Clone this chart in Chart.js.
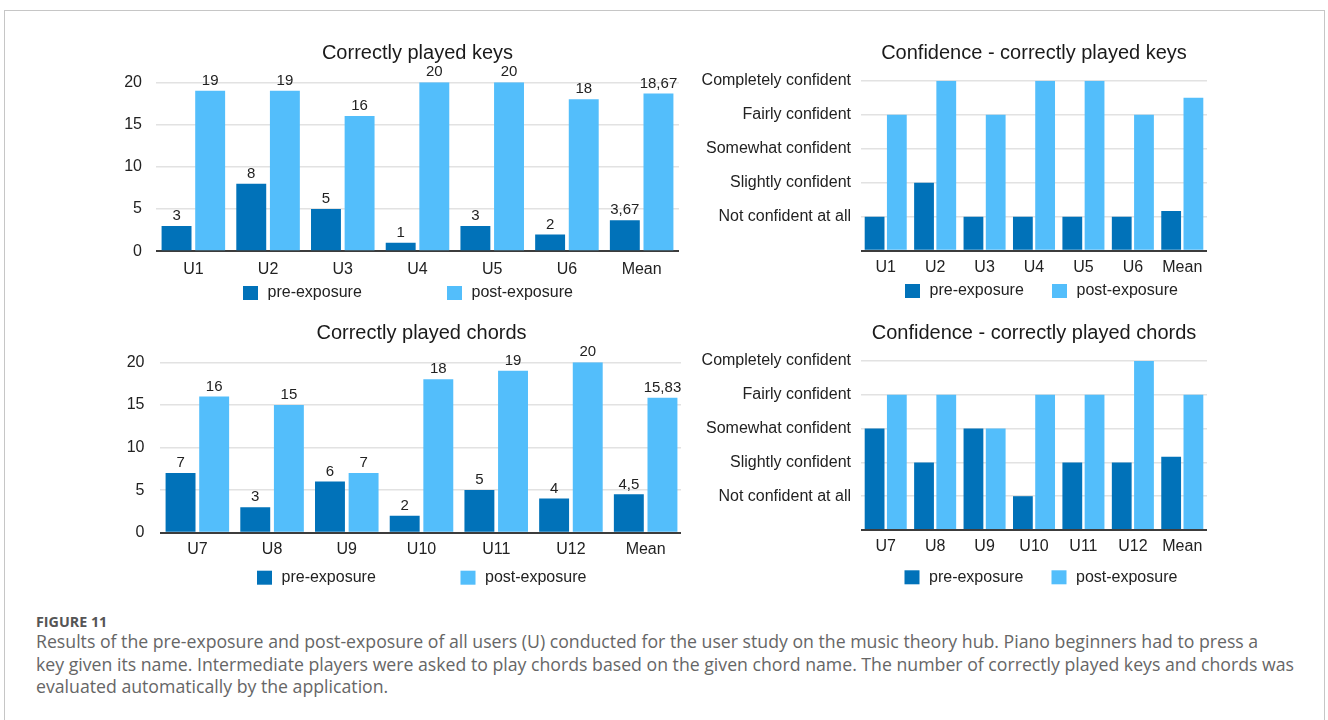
<!DOCTYPE html>
<html>
<head>
<meta charset="utf-8">
<script src="https://cdn.jsdelivr.net/npm/chart.js@4.4.1/dist/chart.umd.min.js"></script>
<style>
  html, body { margin: 0; padding: 0; background: #fff; }
  body { width: 1328px; height: 720px; position: relative; overflow: hidden; }
  .frame { position: absolute; left: 4px; top: 10px; width: 1321px; height: 760px; border: 1px solid #c6c6c6; box-sizing: border-box; }
  .clip { position: absolute; overflow: hidden; }
  canvas { position: absolute; }
  .fig { position: absolute; left: 36px; top: 612px; font-family: "Open Sans", sans-serif; font-weight: 700; font-size: 14.3px; color: #555; }
  .caption { position: absolute; left: 36px; top: 630px; font-family: "Open Sans", sans-serif; font-size: 17.7px; line-height: 22.5px; color: #666; white-space: nowrap; }
</style>
</head>
<body>
<div class="frame"></div>

<div class="clip" style="left:100px; top:30px; width:581px; height:280px;"><canvas id="keys" width="582" height="280" style="left:0; top:0;"></canvas></div>
<canvas id="confKeys" width="638" height="280" style="left:690px; top:30px;"></canvas>
<div class="clip" style="left:100px; top:310px; width:581px; height:290px;"><canvas id="chords" width="584" height="290" style="left:0; top:0;"></canvas></div>
<canvas id="confChords" width="638" height="290" style="left:690px; top:310px;"></canvas>

<div class="fig">FIGURE 11</div>
<div class="caption">
  Results of the pre-exposure and post-exposure of all users (U) conducted for the user study on the music theory hub. Piano beginners had to press a<br>
  key given its name. Intermediate players were asked to play chords based on the given chord name. The number of correctly played keys and chords was<br>
  evaluated automatically by the application.
</div>

<script>
// dados
const keyUsers = ['U1', 'U2', 'U3', 'U4', 'U5', 'U6', 'Mean'];
const chordUsers = ['U7', 'U8', 'U9', 'U10', 'U11', 'U12', 'Mean'];
const seriesNames = ['pre-exposure', 'post-exposure'];
const confLevels = ['Not confident at all', 'Slightly confident', 'Somewhat confident', 'Fairly confident', 'Completely confident'];

const keysPre = [3, 8, 5, 1, 3, 2, 3.67];
const keysPost = [19, 19, 16, 20, 20, 18, 18.67];
const chordsPre = [7, 3, 6, 2, 5, 4, 4.5];
const chordsPost = [16, 15, 7, 18, 19, 20, 15.83];
const confKeysPre = [1, 2, 1, 1, 1, 1, 1.17];
const confKeysPost = [4, 5, 4, 5, 5, 4, 4.5];
const confChordsPre = [3, 2, 3, 1, 2, 2, 2.17];
const confChordsPost = [4, 4, 3, 4, 4, 5, 4];

const PRE_COLOR = '#0172b9';
const POST_COLOR = '#53befb';
const FONT = '"Liberation Sans", Arial, sans-serif';

Chart.defaults.font.family = FONT;
Chart.defaults.color = '#222';

// valores em cima das barras (virgula decimal)
const valueLabels = {
  id: 'valueLabels',
  afterDatasetsDraw(chart) {
    const ctx = chart.ctx;
    ctx.save();
    ctx.font = '15px ' + FONT;
    ctx.fillStyle = '#222';
    ctx.textAlign = 'center';
    ctx.textBaseline = 'middle';
    chart.data.datasets.forEach((ds, i) => {
      chart.getDatasetMeta(i).data.forEach((bar, j) => {
        ctx.fillText(String(ds.data[j]).replace('.', ','), bar.x, bar.y - 10);
      });
    });
    ctx.restore();
  }
};

// legenda desenhada numa linha, com espacamento livre
function legendRow(starts, offsetY) {
  return {
    id: 'legendRow',
    afterDraw(chart) {
      const { ctx, chartArea } = chart;
      const y = chartArea.bottom + offsetY;
      ctx.save();
      ctx.font = '16px ' + FONT;
      ctx.textBaseline = 'middle';
      ctx.textAlign = 'left';
      chart.data.datasets.forEach((ds, i) => {
        const x = chartArea.left + starts[i];
        ctx.fillStyle = ds.backgroundColor;
        ctx.fillRect(x, y - 7, 15, 14);
        ctx.fillStyle = '#222';
        ctx.fillText(ds.label, x + 24.5, y);
      });
      ctx.restore();
    }
  };
}

function criarGrafico(id, o) {
  const plugins = [legendRow(o.legendStarts, o.legendY)];
  if (o.values) plugins.push(valueLabels);

  const yTicks = o.confidence
    ? { min: 0, max: 5, stepSize: 1, callback: v => confLevels[v - 1] || '' }
    : { min: 0, max: 20, stepSize: 5 };

  return new Chart(document.getElementById(id), {
    type: 'bar',
    data: {
      labels: o.labels,
      datasets: [
        { label: seriesNames[0], data: o.pre, backgroundColor: PRE_COLOR },
        { label: seriesNames[1], data: o.post, backgroundColor: POST_COLOR }
      ]
    },
    plugins: plugins,
    options: {
      responsive: false,
      animation: false,
      devicePixelRatio: 1,
      events: [],
      categoryPercentage: 0.9,
      barPercentage: 0.89,
      layout: { padding: { top: 0, right: o.padRight, bottom: o.padBottom, left: 0 } },
      plugins: {
        legend: { display: false },
        tooltip: { enabled: false },
        title: {
          display: true,
          text: o.title,
          fullSize: false,
          color: '#1a1a1a',
          font: { size: 20, weight: 'normal', lineHeight: 1.2 },
          padding: { top: o.titleTop, bottom: o.titleBottom }
        }
      },
      scales: {
        x: {
          grid: { display: false, drawTicks: false },
          border: { display: false },
          ticks: { font: { size: 16 }, color: '#222', padding: o.xPad, maxRotation: 0, autoSkip: false },
          afterFit: s => { s.height = 30; }
        },
        y: {
          min: yTicks.min,
          max: yTicks.max,
          border: { display: false },
          grid: {
            drawTicks: false,
            color: c => c.tick.value === 0 ? '#3c3c3c' : '#e2e2e2',
            lineWidth: c => c.tick.value === 0 ? 2 : 1.5
          },
          ticks: {
            stepSize: yTicks.stepSize,
            callback: yTicks.callback,
            font: { size: 16 },
            color: '#222',
            padding: o.yPad
          },
          afterFit: s => { s.width = o.yWidth; }
        }
      }
    }
  });
}

criarGrafico('keys', {
  title: 'Correctly played keys', labels: keyUsers, pre: keysPre, post: keysPost, values: true,
  yWidth: 56, yPad: 14, padRight: 3, padBottom: 28.7, titleTop: 11, titleBottom: 17.3, xPad: 9,
  legendStarts: [87, 291], legendY: 41.7
});

criarGrafico('confKeys', {
  title: 'Confidence - correctly played keys', labels: keyUsers, pre: confKeysPre, post: confKeysPost, confidence: true,
  yWidth: 171, yPad: 10, padRight: 121, padBottom: 29.3, titleTop: 11, titleBottom: 15.7, xPad: 7,
  legendStarts: [44, 191], legendY: 40.3
});

criarGrafico('chords', {
  title: 'Correctly played chords', labels: chordUsers, pre: chordsPre, post: chordsPost, values: true,
  yWidth: 60, yPad: 15.5, padRight: 1, padBottom: 37.3, titleTop: 11.3, titleBottom: 17, xPad: 7.5,
  legendStarts: [97, 300.5], legendY: 45
});

criarGrafico('confChords', {
  title: 'Confidence - correctly played chords', labels: chordUsers, pre: confChordsPre, post: confChordsPost, confidence: true,
  yWidth: 171, yPad: 10, padRight: 121, padBottom: 40, titleTop: 11.3, titleBottom: 15.7, xPad: 7,
  legendStarts: [43.5, 190.5], legendY: 47.3
});
</script>
</body>
</html>
